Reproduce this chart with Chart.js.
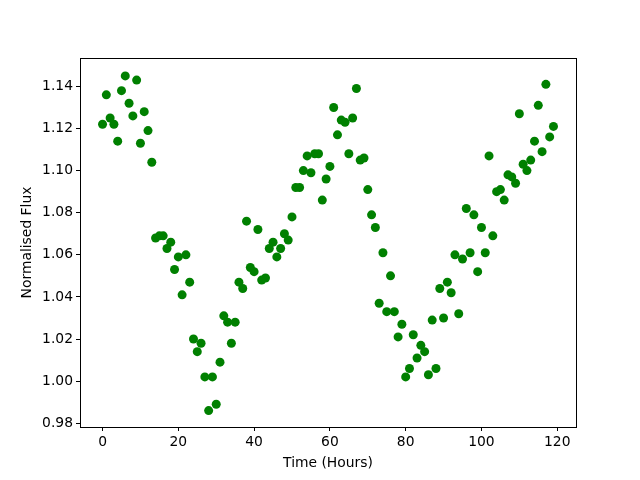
<!DOCTYPE html>
<html>
<head>
<meta charset="utf-8">
<script src="https://cdn.jsdelivr.net/npm/chart.js@4/dist/chart.umd.min.js"></script>
<style>
  html, body { margin: 0; padding: 0; background: #fff; }
  #wrap { width: 640px; height: 480px; }
</style>
</head>
<body>
<div id="wrap"><canvas id="fluxChart" width="640" height="480"></canvas></div>
<script>
// hours of each observation
const hours = [
  0, 1, 2, 3, 4, 5, 6, 7, 8, 9, 10, 11, 12, 13, 14, 15, 16, 17, 18, 19,
  20, 21, 22, 23, 24, 25, 26, 27, 28, 29, 30, 31, 32, 33, 34, 35, 36, 37, 38, 39,
  40, 41, 42, 43, 44, 45, 46, 47, 48, 49, 50, 51, 52, 53, 54, 55, 56, 57, 58, 59,
  60, 61, 62, 63, 64, 65, 66, 67, 68, 69, 70, 71, 72, 73, 74, 75, 76, 77, 78, 79,
  80, 81, 82, 83, 84, 85, 86, 87, 88, 89, 90, 91, 92, 93, 94, 95, 96, 97, 98, 99,
  100, 101, 102, 103, 104, 105, 106, 107, 108, 109, 110, 111, 112, 113, 114, 115, 116, 117, 118, 119
];

// normalised flux
const flux = [
  1.122, 1.136, 1.125, 1.122, 1.114, 1.138, 1.145, 1.132, 1.126, 1.143,
  1.113, 1.128, 1.119, 1.104, 1.068, 1.069, 1.069, 1.063, 1.066, 1.053,
  1.059, 1.041, 1.060, 1.047, 1.020, 1.014, 1.018, 1.002, 0.986, 1.002,
  0.989, 1.009, 1.031, 1.028, 1.018, 1.028, 1.047, 1.044, 1.076, 1.054,
  1.052, 1.072, 1.048, 1.049, 1.063, 1.066, 1.059, 1.063, 1.070, 1.067,
  1.078, 1.092, 1.092, 1.100, 1.107, 1.099, 1.108, 1.108, 1.086, 1.096,
  1.102, 1.130, 1.117, 1.124, 1.123, 1.108, 1.125, 1.139, 1.105, 1.106,
  1.091, 1.079, 1.073, 1.037, 1.061, 1.033, 1.050, 1.033, 1.021, 1.027,
  1.002, 1.006, 1.022, 1.011, 1.017, 1.014, 1.003, 1.029, 1.006, 1.044,
  1.030, 1.047, 1.042, 1.060, 1.032, 1.058, 1.082, 1.061, 1.079, 1.052,
  1.073, 1.061, 1.107, 1.069, 1.090, 1.091, 1.086, 1.098, 1.097, 1.094,
  1.127, 1.103, 1.100, 1.105, 1.114, 1.131, 1.109, 1.141, 1.116, 1.121
];

const xTicks = [0, 20, 40, 60, 80, 100, 120];
const yTicks = [0.98, 1.00, 1.02, 1.04, 1.06, 1.08, 1.10, 1.12, 1.14];

const points = hours.map((h, i) => ({ x: h, y: flux[i] }));

// matplotlib-style box round the plot area
const frameBox = {
    id: 'frameBox',
    afterDraw(chart) {
        const a = chart.chartArea;
        const ctx = chart.ctx;
        ctx.save();
        ctx.strokeStyle = '#000';
        ctx.lineWidth = 1;
        ctx.strokeRect(Math.round(a.left) + 0.5, Math.round(a.top) + 0.5,
            Math.round(a.right - a.left), Math.round(a.bottom - a.top));
        ctx.restore();
    }
};

const tickFont = { family: 'DejaVu Sans', size: 13.89 };

const ctx = document.getElementById('fluxChart').getContext('2d');
const chart = new Chart(ctx, {
    type: 'scatter',
    data: {
        datasets: [{
            data: points,
            backgroundColor: '#008000',
            borderColor: '#008000',
            borderWidth: 0,
            pointRadius: 4.5,
            pointHoverRadius: 4.5
        }]
    },
    options: {
        responsive: false,
        animation: false,
        layout: { padding: { top: 58, right: 64, left: 0, bottom: 0 } },
        plugins: {
            legend: { display: false },
            tooltip: { enabled: false }
        },
        scales: {
            x: {
                type: 'linear',
                min: -5.95,
                max: 124.95,
                afterBuildTicks: (scale) => { scale.ticks = xTicks.map(v => ({ value: v })); },
                afterFit: (scale) => { scale.height = 53; },
                grid: { drawOnChartArea: false, drawTicks: true, tickLength: 4, color: '#000' },
                border: { display: false },
                ticks: { color: '#000', font: tickFont, padding: 3, maxRotation: 0 },
                title: {
                    display: true,
                    text: 'Time (Hours)',
                    color: '#000',
                    font: tickFont,
                    padding: { top: 0, bottom: 8.7 }
                }
            },
            y: {
                type: 'linear',
                min: 0.9782,
                max: 1.1535,
                afterBuildTicks: (scale) => { scale.ticks = yTicks.map(v => ({ value: v })); },
                afterFit: (scale) => { scale.width = 80; },
                grid: { drawOnChartArea: false, drawTicks: true, tickLength: 4, color: '#000' },
                border: { display: false },
                ticks: {
                    color: '#000',
                    font: tickFont,
                    padding: 3,
                    callback: (v) => Number(v).toFixed(2)
                },
                title: {
                    display: true,
                    text: 'Normalised Flux',
                    color: '#000',
                    font: tickFont,
                    padding: { top: 18.7, bottom: 0 }
                }
            }
        }
    },
    plugins: [frameBox]
});
</script>
</body>
</html>
